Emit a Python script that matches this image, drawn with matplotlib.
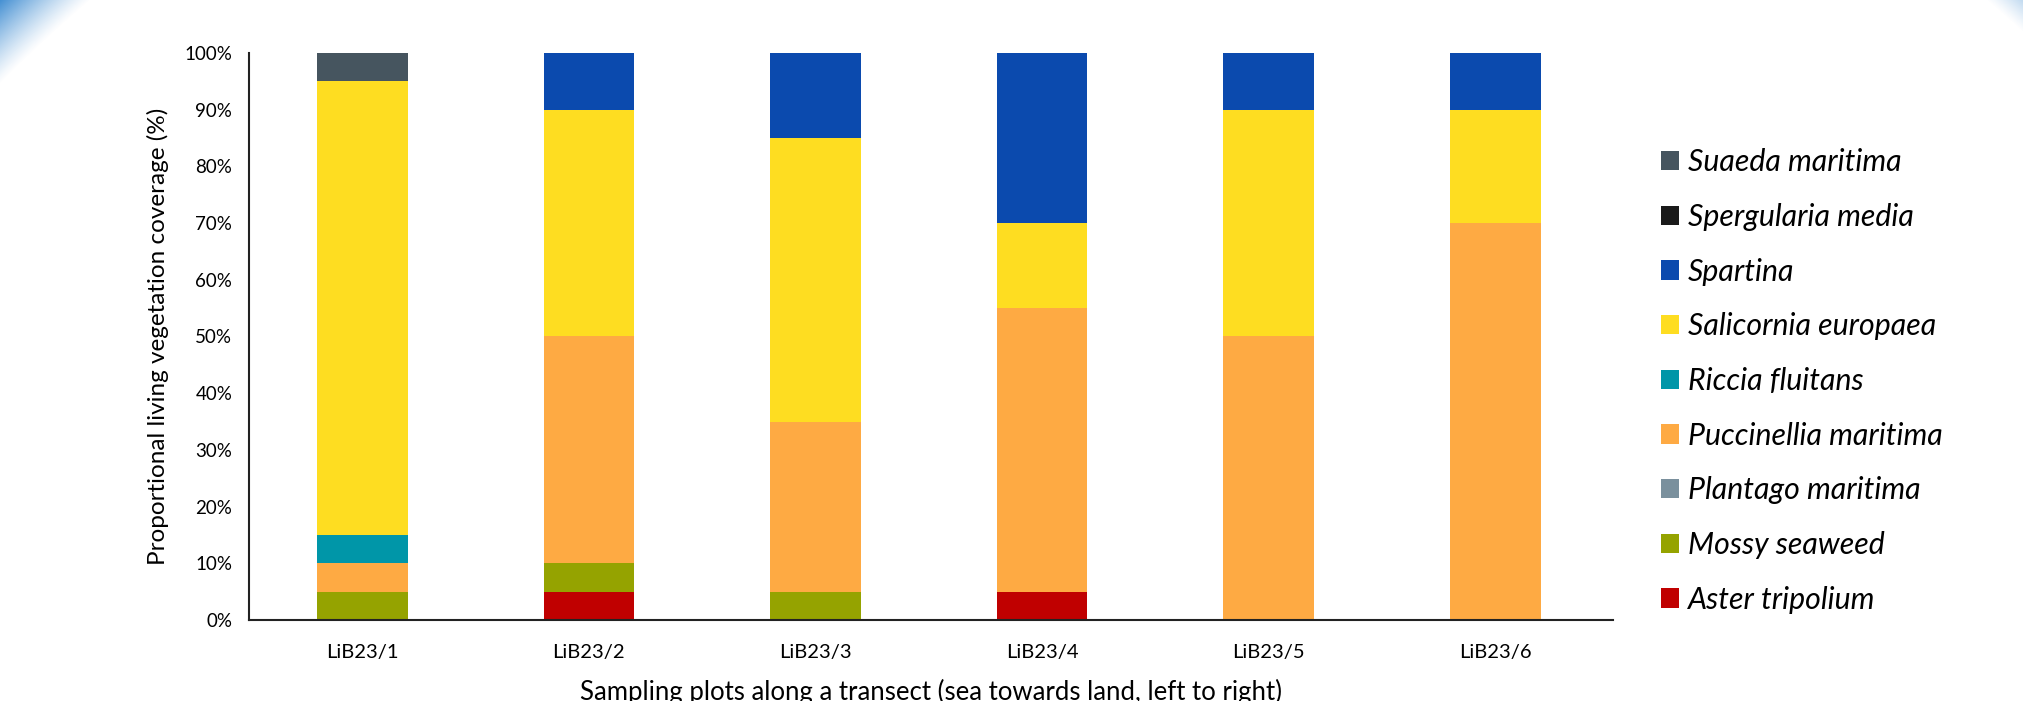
import matplotlib.pyplot as plt
import numpy as np

plt.rcParams['font.family'] = ['Lato', 'DejaVu Sans']

# plots along the transect
plots = ['LiB23/1', 'LiB23/2', 'LiB23/3', 'LiB23/4', 'LiB23/5', 'LiB23/6']

# species, stacked bottom -> top
species = ['Aster tripolium', 'Mossy seaweed', 'Plantago maritima',
           'Puccinellia maritima', 'Riccia fluitans', 'Salicornia europaea',
           'Spartina', 'Spergularia media', 'Suaeda maritima']
colors = ['#c00000', '#95a300', '#7a909d', '#feaa43', '#0096a8',
          '#fedd21', '#0b4aae', '#1a1a1a', '#46555f']

# coverage in % per plot
aster = [0, 5, 0, 5, 0, 0]
mossy = [5, 5, 5, 0, 0, 0]
plantago = [0, 0, 0, 0, 0, 0]
puccinellia = [5, 40, 30, 50, 50, 70]
riccia = [5, 0, 0, 0, 0, 0]
salicornia = [80, 40, 50, 15, 40, 20]
spartina = [0, 10, 15, 30, 10, 10]
spergularia = [0, 0, 0, 0, 0, 0]
suaeda = [5, 0, 0, 0, 0, 0]

values = [aster, mossy, plantago, puccinellia, riccia,
          salicornia, spartina, spergularia, suaeda]

fig = plt.figure(figsize=(20.24, 7.01), dpi=100)

# soft blue corner glow of the slide background
bg = fig.add_axes([0, 0, 1, 1], zorder=-10)
W, H = 2024, 701
xx, yy = np.meshgrid(np.arange(W), np.arange(H))
d = np.sqrt((xx - 1038) ** 2 + (yy - 1113) ** 2)
a = np.clip((d - 1462) / 65.0, 0, 1) ** 1.2 * 0.95
img = np.zeros((H, W, 4))
img[..., 0] = 0.16
img[..., 1] = 0.50
img[..., 2] = 0.80
img[..., 3] = a
bg.imshow(img, extent=[0, W, H, 0], aspect='auto')
bg.set_xlim(0, W)
bg.set_ylim(H, 0)
bg.axis('off')

ax = fig.add_axes([0.123, 0.1156, 0.674, 0.8088])
x = np.arange(len(plots))
bottom = np.zeros(len(plots))
for name, col, vals in zip(species, colors, values):
    v = np.array(vals) / 100.0
    ax.bar(x, v, 0.4, bottom=bottom, color=col, label=name, linewidth=0)
    bottom += v

ax.set_xlim(-0.5, 5.52)
ax.set_ylim(0, 1)
ax.set_xticks(x)
ax.set_xticklabels(plots, fontsize=14.5)
ax.set_yticks(np.arange(0, 1.01, 0.1))
ax.set_yticklabels([f'{int(t)}%' for t in np.arange(0, 101, 10)], fontsize=13.5)
ax.tick_params(axis='both', length=0, pad=12)
ax.tick_params(axis='x', pad=17)
for s in ['top', 'right']:
    ax.spines[s].set_visible(False)
for s in ['left', 'bottom']:
    ax.spines[s].set_linewidth(1.5)
    ax.spines[s].set_color('#222222')

ax.set_ylabel('Proportional living vegetation coverage (%)', fontsize=17.5, labelpad=11)
ax.set_xlabel('Sampling plots along a transect (sea towards land, left to right)',
              fontsize=18.5, labelpad=13)

h, l = ax.get_legend_handles_labels()
leg = fig.legend(h[::-1], l[::-1], loc='center left', bbox_to_anchor=(0.807, 0.4565),
                 frameon=False, prop={'style': 'italic', 'size': 21.8},
                 handlelength=0.6, handleheight=0.6, handletextpad=0.3,
                 labelspacing=0.88)

fig.savefig('out.png', dpi=100, facecolor='white')
